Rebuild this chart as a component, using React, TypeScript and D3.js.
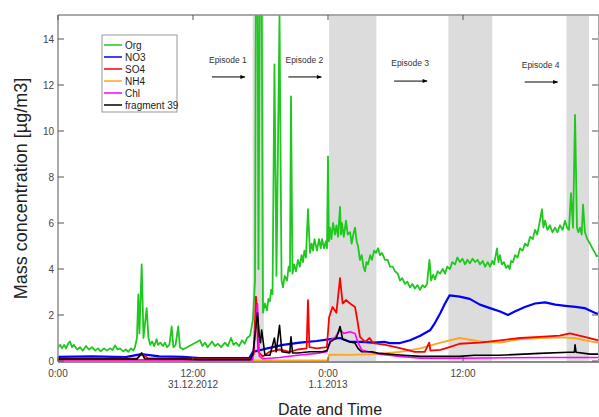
import React from "react";
import * as d3 from "d3";

const WIDTH = 599;
const HEIGHT = 417;
const margin = { top: 16, right: 1, bottom: 56, left: 58 };
const FONT = "'Liberation Sans', Arial, sans-serif";

// hours since 0:00 31.12.2012, concentration in ug/m3
const org: [number, number][] = [
  [0, 0.6], [0.2, 0.7], [0.36, 0.55], [0.55, 0.7], [0.71, 0.55], [0.9, 0.75], [1.07, 0.85], [1.25, 0.6],
  [1.42, 0.7], [1.7, 0.5], [1.96, 0.6], [2.2, 0.45], [2.49, 0.65], [2.75, 0.5], [3.02, 0.6], [3.3, 0.45],
  [3.56, 0.55], [3.8, 0.42], [4.09, 0.55], [4.35, 0.45], [4.62, 0.55], [4.85, 0.48], [5.07, 0.68],
  [5.3, 0.5], [5.51, 0.55], [5.8, 0.42], [6.04, 0.5], [6.25, 0.4], [6.49, 0.55], [6.7, 0.45],
  [6.84, 0.6], [7.02, 1.0], [7.14, 2.9], [7.24, 1.2], [7.44, 4.2], [7.6, 1.0],
  [7.88, 2.3], [8.04, 1.0], [8.2, 0.7], [8.36, 0.85], [8.55, 0.65], [8.77, 0.95], [8.89, 0.7],
  [9.1, 0.8], [9.33, 0.65], [9.5, 0.8], [9.69, 0.6], [9.9, 0.7],
  [10.1, 1.5], [10.26, 0.6], [10.45, 0.7], [10.69, 1.5], [10.84, 0.6], [11.11, 0.5], [12.62, 0.9],
  [12.85, 0.65], [13.07, 0.8], [13.3, 0.6], [13.69, 0.85], [13.95, 0.65], [14.22, 0.75], [14.5, 0.6],
  [14.84, 0.8], [15.1, 0.65], [15.38, 1.0], [15.6, 0.7], [15.82, 0.8], [16.1, 0.65], [16.36, 0.9],
  [16.6, 0.75], [16.8, 1.0], [17.07, 1.1], [17.33, 1.8], [17.51, 3.5], [17.6, 18], [17.73, 18],
  [17.82, 4.0], [17.96, 18], [18.09, 18], [18.22, 2.1], [18.4, 2.5], [18.58, 2.2], [18.7, 2.7],
  [18.84, 2.6], [18.95, 3.1], [19.07, 2.9], [19.24, 12.9], [19.42, 3.7],
  [19.69, 15.0], [19.87, 3.5], [20.0, 3.2], [20.15, 3.7], [20.36, 3.5], [20.5, 4.1], [20.62, 3.9],
  [20.71, 11.5], [20.84, 3.8], [21.0, 4.2], [21.15, 3.9], [21.33, 4.4], [21.5, 4.1], [21.65, 4.6],
  [21.78, 4.3], [21.9, 4.8], [22.04, 4.5], [22.22, 6.6], [22.4, 4.7], [22.55, 5.1], [22.67, 4.8],
  [22.8, 5.3], [23.02, 4.8], [23.2, 5.3], [23.35, 4.9], [23.47, 5.3], [23.65, 4.9], [23.8, 5.2],
  [23.91, 4.9], [24.0, 8.9], [24.08, 5.2], [24.18, 5.8], [24.3, 5.3], [24.45, 6.0], [24.62, 5.5],
  [24.75, 5.9], [24.89, 5.4], [25.07, 6.7], [25.15, 5.5], [25.24, 6.0], [25.4, 5.4], [25.6, 6.1],
  [25.75, 5.5], [25.96, 5.6], [26.1, 5.1], [26.25, 5.5], [26.4, 5.8], [26.55, 5.2], [26.67, 5.0],
  [26.84, 4.4], [27.0, 4.6], [27.15, 4.1], [27.29, 3.9], [27.42, 4.3], [27.56, 4.2], [27.75, 4.6],
  [27.91, 4.4], [28.1, 4.8], [28.27, 4.7], [28.45, 4.9], [28.62, 4.6], [28.8, 4.7], [29.07, 4.4],
  [29.3, 4.4], [29.51, 4.1], [29.75, 4.1], [29.96, 3.9], [30.2, 3.8], [30.4, 3.5], [30.6, 3.6],
  [30.84, 3.35], [31.05, 3.45], [31.29, 3.2], [31.5, 3.35], [31.73, 3.15], [31.95, 3.3],
  [32.18, 3.1], [32.4, 3.3], [32.6, 3.2], [32.8, 3.35], [33.02, 4.4], [33.16, 3.5], [33.35, 3.75],
  [33.51, 3.55], [33.75, 3.9], [33.96, 3.8], [34.2, 4.0], [34.4, 3.8], [34.6, 4.1], [34.84, 4.0],
  [35.05, 4.3], [35.29, 4.2], [35.5, 4.5], [35.73, 4.3], [35.95, 4.45], [36.18, 4.2], [36.4, 4.4],
  [36.62, 4.25], [36.85, 4.45], [37.07, 4.3], [37.3, 4.4], [37.51, 4.2], [37.75, 4.35], [37.96, 4.1],
  [38.2, 4.3], [38.4, 4.1], [38.6, 4.35], [38.76, 4.2], [39.02, 4.9], [39.15, 4.3], [39.29, 4.6],
  [39.45, 4.2], [39.64, 4.3], [39.82, 4.05], [40.0, 4.15], [40.15, 4.0], [40.27, 4.35], [40.45, 4.3],
  [40.62, 4.6], [40.85, 4.5], [41.07, 4.9], [41.3, 4.8], [41.51, 5.1], [41.75, 5.0], [41.96, 5.4],
  [42.2, 5.3], [42.4, 5.7], [42.6, 5.5], [42.84, 6.1], [43.02, 6.6], [43.15, 5.8], [43.29, 6.1],
  [43.5, 5.7], [43.73, 5.9], [43.95, 5.6], [44.18, 5.8], [44.4, 5.6], [44.62, 5.9], [44.85, 5.7],
  [45.07, 6.1], [45.25, 5.8], [45.42, 5.7], [45.6, 7.3], [45.78, 5.8], [45.96, 10.7],
  [46.13, 5.8], [46.25, 5.6], [46.4, 5.8], [46.55, 5.5], [46.67, 6.8], [46.84, 5.6], [47.05, 5.3],
  [47.29, 5.1], [47.5, 4.9], [47.73, 4.7], [47.88, 4.55], [48.0, 4.6],
];

const no3: [number, number][] = [
  [0, 0.18], [3, 0.2], [6, 0.17], [7.4, 0.3], [9, 0.2], [11.1, 0.18], [12.6, 0.13], [17, 0.13],
  [17.33, 0.4], [18.2, 0.5], [18.6, 0.55], [20.0, 0.7], [21.5, 0.8], [23.0, 0.87], [24.2, 0.95],
  [25.07, 1.0], [26, 0.83], [27, 0.83], [28, 0.8], [29, 0.83], [29.5, 0.78], [30.4, 0.78],
  [31.3, 0.9], [32.2, 1.1], [33.1, 1.35], [33.5, 1.65], [34.0, 2.1], [34.4, 2.5], [34.8, 2.85],
  [35.7, 2.8], [36.6, 2.7], [37.5, 2.45], [38.4, 2.3], [39.3, 2.15], [40.0, 2.0], [40.6, 2.15],
  [41.5, 2.35], [42.4, 2.5], [43.3, 2.55], [44.2, 2.45], [45.1, 2.4], [46.0, 2.35], [46.8, 2.3],
  [47.7, 2.1], [48, 2.05],
];

const so4: [number, number][] = [
  [0, 0.1], [7.0, 0.1], [7.44, 0.3], [8, 0.12], [11.1, 0.1], [12.6, 0.08], [17.1, 0.08], [17.4, 0.3],
  [17.6, 2.8], [17.8, 0.4], [18.2, 0.2], [18.8, 0.4], [19.7, 0.5], [20.6, 0.4], [21.3, 0.5],
  [22.1, 0.55], [22.22, 2.65], [22.35, 0.6], [23.0, 0.55], [23.9, 0.6], [24.1, 1.9], [24.4, 2.35],
  [24.75, 2.1], [25.07, 3.6], [25.3, 2.5], [25.6, 2.65], [25.96, 2.5], [26.4, 2.35], [26.6, 1.8],
  [26.84, 1.05], [27.3, 0.83], [27.7, 1.0], [28.0, 0.78], [29.1, 0.7], [30.4, 0.56], [31.7, 0.4],
  [32.6, 0.4], [33.0, 0.8], [33.1, 0.45], [34.0, 0.48], [34.8, 0.6], [35.7, 0.75], [37.5, 0.8],
  [39.3, 0.9], [41.1, 1.0], [42.8, 1.05], [44.6, 1.1], [45.5, 1.2], [46.8, 1.05], [48, 0.9],
];

const nh4: [number, number][] = [
  [0, 0.03], [24.0, 0.03], [24.1, 0.28], [26, 0.27], [28, 0.3], [30.4, 0.4], [32.2, 0.55],
  [34.0, 0.8], [35.7, 1.0], [37.5, 0.85], [39.3, 0.8], [41.1, 0.95], [42.8, 1.0], [44.6, 1.03],
  [45.9, 1.0], [47.3, 0.85], [48, 0.8],
];

const chl: [number, number][] = [
  [0, 0.05], [17.3, 0.05], [17.73, 2.5], [17.9, 0.2], [18.2, 0.1], [19.7, 0.15], [21.3, 0.25],
  [23.0, 0.33], [23.9, 0.4], [24.2, 0.9], [24.6, 1.0], [25.07, 1.35], [25.4, 1.2], [25.96, 1.27],
  [26.4, 1.2], [26.67, 0.8], [27.0, 0.48], [27.6, 0.4], [28.6, 0.3], [30.4, 0.2], [32.2, 0.12],
  [36, 0.12], [40, 0.14], [44, 0.15], [48, 0.15],
];

const frag39: [number, number][] = [
  [0, 0.08], [7.0, 0.08], [7.44, 0.35], [7.7, 0.1], [11.1, 0.08], [12.6, 0.06], [17.1, 0.06],
  [17.33, 0.3], [17.73, 2.1], [17.9, 1.05], [18.0, 0.8], [18.1, 1.35], [18.4, 0.25], [18.84, 0.25],
  [19.24, 1.0], [19.4, 0.4], [19.69, 1.55], [19.9, 0.4], [20.6, 0.35], [20.71, 1.05], [20.85, 0.35],
  [21.3, 0.35], [22.4, 0.4], [23.5, 0.4], [23.9, 0.45], [24.2, 0.83], [24.75, 1.0], [25.07, 1.5],
  [25.3, 0.95], [25.96, 0.83], [26.4, 0.78], [26.67, 0.55], [27.0, 0.4], [27.9, 0.4], [28.6, 0.33],
  [30.4, 0.26], [32.2, 0.2], [34, 0.2], [35.7, 0.2], [37, 0.25], [39.3, 0.25], [42.8, 0.33],
  [45.4, 0.38], [45.9, 0.38], [45.96, 0.7], [46.05, 0.38], [47.3, 0.3], [48, 0.3],
];

// grey shaded periods [start, end] in hours
const shaded: [number, number][] = [
  [17.3, 18.3], [24.1, 28.3], [34.7, 38.6], [45.2, 47.2],
];

const episodes = [
  { label: "Episode 1", t: 15.1, y: 12.95, arrowY: 12.35 },
  { label: "Episode 2", t: 21.9, y: 12.95, arrowY: 12.35 },
  { label: "Episode 3", t: 31.3, y: 12.83, arrowY: 12.17 },
  { label: "Episode 4", t: 42.9, y: 12.74, arrowY: 12.13 },
];

const xTicks = [0, 12, 24, 36];
const xTickLabels = [["0:00"], ["12:00", "31.12.2012"], ["0:00", "1.1.2013"], ["12:00"]];
const yTicks = [0, 2, 4, 6, 8, 10, 12, 14];

const series = [
  { name: "Org", data: org, color: "#1ec81e", width: 1.8 },
  { name: "NO3", data: no3, color: "#0000ff", width: 2.2 },
  { name: "SO4", data: so4, color: "#ff0000", width: 1.8 },
  { name: "NH4", data: nh4, color: "#ffa520", width: 1.8 },
  { name: "Chl", data: chl, color: "#ff00ff", width: 1.6 },
  { name: "fragment 39", data: frag39, color: "#000000", width: 1.6 },
];
const drawOrder = ["Org", "NO3", "NH4", "SO4", "Chl", "fragment 39"];

export default function App() {
  const x = d3.scaleLinear().domain([0, 48]).range([margin.left, WIDTH - margin.right]);
  const y = d3.scaleLinear().domain([0, 15]).range([HEIGHT - margin.bottom, margin.top]);
  const line = d3
    .line<[number, number]>()
    .x((d) => x(d[0]))
    .y((d) => y(d[1]));

  const x0 = x(0);
  const x1 = x(48);
  const yBottom = y(0);
  const yTop = y(15);
  const axisColor = "#8c8c8c";

  return (
    <svg
      width={WIDTH}
      height={HEIGHT}
      style={{ position: "absolute", left: 0, top: 0, background: "#fff" }}
    >
      <defs>
        <clipPath id="plot">
          <rect x={x0} y={yTop - 1} width={x1 - x0} height={yBottom - yTop + 1} />
        </clipPath>
        <marker id="arrow" viewBox="0 0 10 10" refX="9" refY="5" markerWidth="6" markerHeight="5" orient="auto">
          <path d="M0,1 L10,5 L0,9 z" fill="#000" />
        </marker>
      </defs>

      {shaded.map(([a, b], i) => (
        <rect key={i} x={x(a)} y={yTop} width={x(b) - x(a)} height={yBottom - yTop} fill="#dcdcdc" />
      ))}

      <g clipPath="url(#plot)">
        {drawOrder.map((n) => {
          const s = series.find((d) => d.name === n)!;
          return (
            <path
              key={n}
              d={line(s.data) || ""}
              fill="none"
              stroke={s.color}
              strokeWidth={s.width}
              strokeLinejoin="round"
            />
          );
        })}
      </g>

      {/* frame */}
      <line x1={x0} x2={x0} y1={yTop - 1} y2={yBottom + 1} stroke={axisColor} strokeWidth={1.5} />
      <line x1={x0} x2={WIDTH} y1={yTop - 1} y2={yTop - 1} stroke={axisColor} strokeWidth={1.5} />
      <line x1={x0} x2={WIDTH} y1={yBottom + 1} y2={yBottom + 1} stroke={axisColor} strokeWidth={2} />
      <line x1={WIDTH} x2={WIDTH} y1={yTop - 1} y2={yBottom + 1} stroke={axisColor} strokeWidth={1.5} />

      {yTicks.map((t) => (
        <g key={t}>
          <line x1={x0} x2={x0 + 6} y1={y(t)} y2={y(t)} stroke="#555" />
          <line x1={x1 - 6} x2={x1} y1={y(t)} y2={y(t)} stroke="#555" />
          <text x={x0 - 4} y={y(t)} dy="0.35em" textAnchor="end" fontSize={10} fill="#444" fontFamily={FONT}>
            {t}
          </text>
        </g>
      ))}

      {xTicks.map((t, i) => (
        <g key={t}>
          <line x1={x(t)} x2={x(t)} y1={yBottom} y2={yBottom - 4} stroke="#555" />
          <line x1={x(t)} x2={x(t)} y1={yTop - 1} y2={yTop + 4} stroke="#555" />
          {xTickLabels[i].map((s, j) => (
            <text
              key={j}
              x={x(t)}
              y={yBottom + 16 + j * 11}
              textAnchor="middle"
              fontSize={10}
              fill="#444"
              fontFamily={FONT}
            >
              {s}
            </text>
          ))}
        </g>
      ))}

      {episodes.map((e) => (
        <g key={e.label}>
          <text x={x(e.t)} y={y(e.y)} textAnchor="middle" fontSize={8.5} fill="#333" fontFamily={FONT}>
            {e.label}
          </text>
          <line
            x1={x(e.t) - 16}
            x2={x(e.t) + 17}
            y1={y(e.arrowY)}
            y2={y(e.arrowY)}
            stroke="#000"
            strokeWidth={1}
            markerEnd="url(#arrow)"
          />
        </g>
      ))}

      {/* legend */}
      <g transform="translate(102,35)">
        <rect x={0} y={0} width={75} height={77} fill="#fff" stroke="#999" />
        {series.map((s, i) => (
          <g key={s.name} transform={`translate(0,${10 + i * 12})`}>
            <line x1={2} x2={20} y1={0} y2={0} stroke={s.color} strokeWidth={2} opacity={0.75} />
            <text x={23} y={0} dy="0.35em" fontSize={10} fill="#222" fontFamily={FONT}>
              {s.name}
            </text>
          </g>
        ))}
      </g>

      <text
        transform={`translate(27,${(yTop + yBottom) / 2}) rotate(-90)`}
        textAnchor="middle"
        fontSize={18}
        fill="#222"
        fontFamily={FONT}
      >
        Mass concentration [µg/m3]
      </text>
      <text x={330} y={415} textAnchor="middle" fontSize={16} fill="#222" fontFamily={FONT}>
        Date and Time
      </text>
    </svg>
  );
}
